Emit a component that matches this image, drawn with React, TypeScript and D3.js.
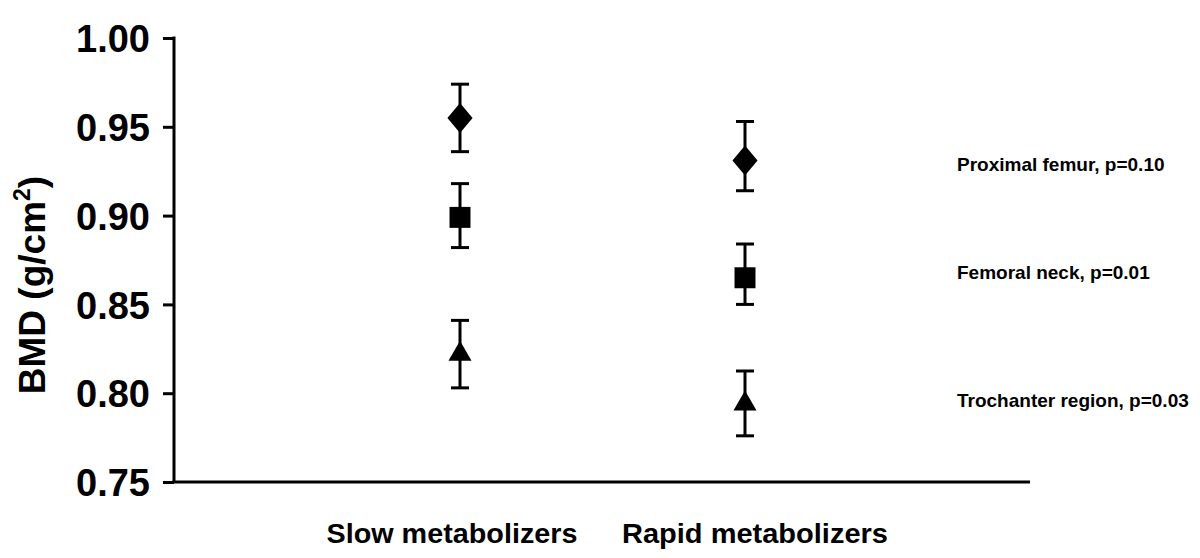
import { useEffect, useRef } from "react";
import * as d3 from "d3";

const groups = ["Slow metabolizers", "Rapid metabolizers"];
const sites = ["Proximal femur", "Femoral neck", "Trochanter region"];
const pValues = ["0.10", "0.01", "0.03"];
const shapes = ["diamond", "square", "triangle"];

// mean, lower, upper per site, per group
const slowMeans = [0.955, 0.899, 0.822];
const slowLower = [0.936, 0.882, 0.803];
const slowUpper = [0.974, 0.918, 0.841];
const rapidMeans = [0.931, 0.865, 0.794];
const rapidLower = [0.914, 0.85, 0.776];
const rapidUpper = [0.953, 0.884, 0.8125];

const yTicks = [0.75, 0.8, 0.85, 0.9, 0.95, 1.0];

const W = 1200;
const H = 558;
const FONT = "'Liberation Sans', Arial, Helvetica, sans-serif";

export default function App() {
  const svgRef = useRef<SVGSVGElement>(null);

  useEffect(() => {
    const svg = d3.select(svgRef.current);
    svg.selectAll("*").remove();

    const x0 = 174;
    const x1 = 1030;
    const y = d3.scaleLinear().domain([0.75, 1.0]).range([482, 38]);
    const x = d3.scalePoint<string>().domain(groups).range([460, 745]);

    // y axis
    const yAxis = d3
      .axisLeft(y)
      .tickValues(yTicks)
      .tickFormat(d3.format(".2f"))
      .tickSize(11)
      .tickSizeOuter(0)
      .tickPadding(13);
    const gy = svg.append("g").attr("transform", `translate(${x0},0)`).call(yAxis);
    gy.select(".domain").attr("stroke", "#000").attr("stroke-width", 3)
      .attr("d", `M0,${y(1.0) - 1.5}V${y(0.75)}`);
    gy.selectAll(".tick line").attr("stroke", "#000").attr("stroke-width", 3);
    gy.selectAll(".tick text")
      .attr("fill", "#000")
      .attr("font-family", FONT)
      .attr("font-weight", "bold")
      .attr("font-size", 38)
      .attr("dy", "0.36em");

    // x axis line
    svg.append("line")
      .attr("x1", x0 - 1.5).attr("x2", x1)
      .attr("y1", y(0.75)).attr("y2", y(0.75))
      .attr("stroke", "#000").attr("stroke-width", 3);

    // category labels
    const catCenter = [452, 755];
    svg.selectAll(".cat")
      .data(groups)
      .join("text")
      .attr("class", "cat")
      .attr("x", (_, i) => catCenter[i])
      .attr("y", 543)
      .attr("text-anchor", "middle")
      .attr("font-family", FONT)
      .attr("font-weight", "bold")
      .attr("font-size", 28)
      .attr("textLength", (_, i) => (i === 0 ? 251 : 266))
      .attr("lengthAdjust", "spacingAndGlyphs")
      .text((d) => d);

    // y title
    const title = svg.append("text")
      .attr("transform", `translate(45,285) rotate(-90)`)
      .attr("text-anchor", "middle")
      .attr("font-family", FONT)
      .attr("font-weight", "bold")
      .attr("font-size", 37);
    title.append("tspan").text("BMD (g/cm");
    title.append("tspan").attr("font-size", 23).attr("dy", -15).text("2");
    title.append("tspan").attr("dy", 15).text(")");

    const rows = [
      { g: groups[0], m: slowMeans, lo: slowLower, hi: slowUpper },
      { g: groups[1], m: rapidMeans, lo: rapidLower, hi: rapidUpper },
    ];

    const symbolFor: Record<string, d3.SymbolType> = {
      diamond: d3.symbolDiamond,
      square: d3.symbolSquare,
      triangle: d3.symbolTriangle,
    };
    const sizeFor: Record<string, number> = { diamond: 260, square: 440, triangle: 230 };

    const pts = rows.flatMap((r) =>
      sites.map((s, i) => ({ g: r.g, shape: shapes[i], m: r.m[i], lo: r.lo[i], hi: r.hi[i] }))
    );

    const cap = 9;
    const eb = svg.append("g").attr("stroke", "#000").attr("stroke-width", 3);
    pts.forEach((p) => {
      const cx = x(p.g)!;
      eb.append("line").attr("x1", cx).attr("x2", cx).attr("y1", y(p.hi)).attr("y2", y(p.lo));
      eb.append("line").attr("x1", cx - cap).attr("x2", cx + cap).attr("y1", y(p.hi)).attr("y2", y(p.hi));
      eb.append("line").attr("x1", cx - cap).attr("x2", cx + cap).attr("y1", y(p.lo)).attr("y2", y(p.lo));
    });

    svg.selectAll(".pt")
      .data(pts)
      .join("path")
      .attr("class", "pt")
      .attr("transform", (p) => {
        const sx = p.shape === "diamond" ? 1.45 : 1;
        return `translate(${x(p.g)},${y(p.m)}) scale(${sx},1)`;
      })
      .attr("d", (p) => d3.symbol().type(symbolFor[p.shape]).size(sizeFor[p.shape])()!)
      .attr("fill", "#000");

    // right-hand labels
    const labelY = [171, 279, 407];
    svg.selectAll(".site")
      .data(sites)
      .join("text")
      .attr("class", "site")
      .attr("x", 957)
      .attr("y", (_, i) => labelY[i])
      .attr("font-family", FONT)
      .attr("font-weight", "bold")
      .attr("font-size", 19)
      .text((d, i) => `${d}, p=${pValues[i]}`);
  }, []);

  return (
    <svg
      ref={svgRef}
      width={W}
      height={H}
      style={{ position: "absolute", left: 0, top: 0, background: "#fff" }}
    />
  );
}
